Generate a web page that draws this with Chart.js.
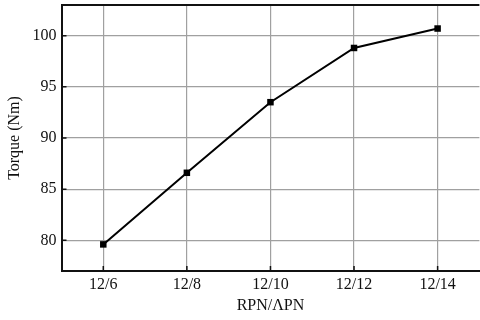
<!DOCTYPE html>
<html>
<head>
<meta charset="utf-8">
<script src="https://cdn.jsdelivr.net/npm/chart.js@4/dist/chart.umd.min.js"></script>
<style>
  html, body { margin: 0; padding: 0; background: #fff; overflow: hidden; }
  #wrap { width: 484px; height: 320px; }
</style>
</head>
<body>
<div id="wrap"><canvas id="torqueChart" width="484" height="320"></canvas></div>
<script>
// data
var ratios = ['12/6', '12/8', '12/10', '12/12', '12/14'];
var torque = [79.6, 86.6, 93.5, 98.8, 100.7];
var yTicks = [80, 85, 90, 95, 100];

// frame top line + inward tick marks
var frameAndTicks = {
    id: 'frameAndTicks',
    afterDraw: function(chart) {
        var ctx = chart.ctx;
        var area = chart.chartArea;
        var xs = chart.scales.x, ys = chart.scales.y;
        ctx.save();
        ctx.strokeStyle = '#111';
        ctx.lineWidth = 2;
        ctx.beginPath();
        ctx.moveTo(area.left, area.top);
        ctx.lineTo(area.right, area.top);
        ctx.stroke();
        ctx.lineWidth = 1.5;
        ctx.beginPath();
        ys.ticks.forEach(function(t, i) {
            var y = ys.getPixelForTick(i);
            ctx.moveTo(area.left, y);
            ctx.lineTo(area.left + 5, y);
        });
        xs.ticks.forEach(function(t, i) {
            var x = xs.getPixelForTick(i);
            ctx.moveTo(x, area.bottom);
            ctx.lineTo(x, area.bottom - 5);
        });
        ctx.stroke();
        ctx.restore();
    }
};

var tickFont = { family: '"Liberation Serif", "Times New Roman", serif', size: 16 };

new Chart(document.getElementById('torqueChart').getContext('2d'), {
    type: 'line',
    data: {
        labels: ratios,
        datasets: [{
            label: 'Torque',
            data: torque,
            borderColor: '#000',
            backgroundColor: '#000',
            borderWidth: 2,
            pointStyle: 'rect',
            pointRadius: 4.6,
            pointBorderWidth: 0,
            tension: 0
        }]
    },
    plugins: [frameAndTicks],
    options: {
        responsive: false,
        animation: false,
        layout: { padding: { top: 5, right: 0, bottom: 0, left: 0 } },
        plugins: {
            legend: { display: false },
            tooltip: { enabled: false }
        },
        scales: {
            x: {
                type: 'category',
                offset: true,
                afterFit: function(scale) {
                    scale.height = 49;
                    scale.paddingLeft = 0;
                    scale.paddingRight = 0;
                },
                grid: { color: '#a0a0a0', lineWidth: 1.2, drawTicks: false, offset: false },
                border: { color: '#111', width: 2 },
                ticks: { color: '#111', font: tickFont, padding: 4, maxRotation: 0 },
                title: {
                    display: true,
                    text: 'RPN/ΛPN',
                    color: '#111',
                    font: tickFont,
                    padding: { top: 0, bottom: 5 }
                }
            },
            y: {
                min: 77,
                max: 103,
                afterFit: function(scale) {
                    scale.width = 61.5;
                    scale.paddingTop = 0;
                    scale.paddingBottom = 0;
                },
                afterBuildTicks: function(scale) {
                    scale.ticks = yTicks.map(function(v) { return { value: v }; });
                },
                grid: { color: '#a0a0a0', lineWidth: 1.2, drawTicks: false },
                border: { color: '#111', width: 2 },
                ticks: { color: '#111', font: tickFont, padding: 5 },
                title: {
                    display: true,
                    text: 'Torque (Nm)',
                    color: '#111',
                    font: tickFont,
                    padding: { top: 5, bottom: 0 }
                }
            }
        }
    }
});
</script>
</body>
</html>
